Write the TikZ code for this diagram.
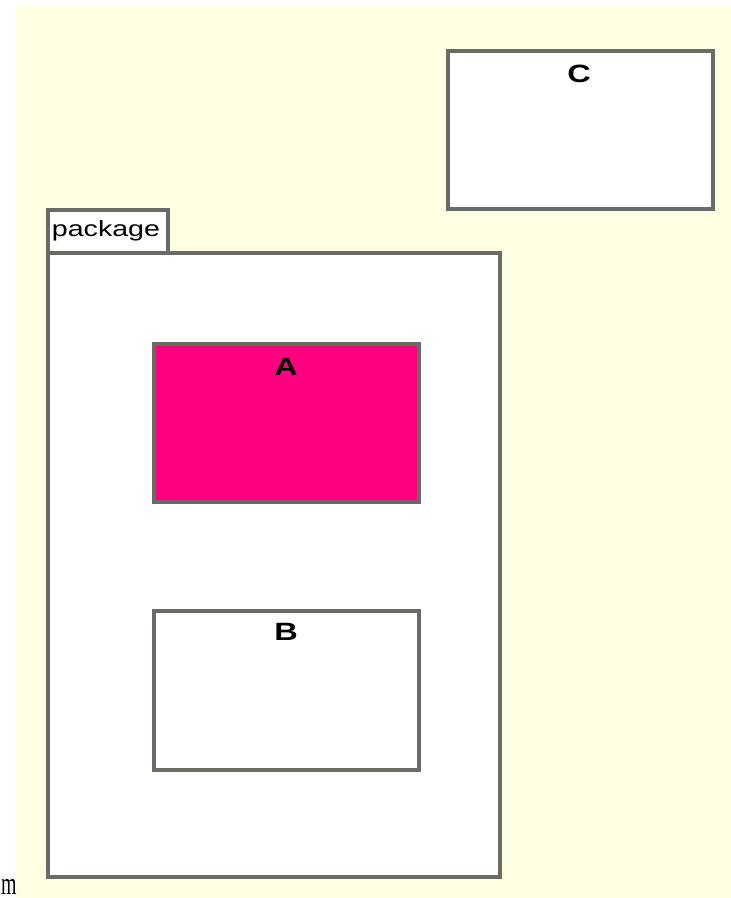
\documentclass[tikz,border=0pt]{standalone}
\usepackage{fontspec}
\setmainfont{Liberation Sans}
\newfontfamily\serifm{Liberation Serif}
\usepackage{tikz}
\usepackage{xcolor}
\usepackage{graphicx}

\definecolor{canvas}{HTML}{FFFFE3}
\definecolor{edge}{HTML}{6A6A66}
\definecolor{hot}{HTML}{FF0080}
\newcommand{\wide}[1]{\scalebox{1.3}[1]{#1}}

\tikzset{
  classbox/.style={draw=edge, line width=3.2pt, fill=white, rectangle, inner sep=0pt},
  classname/.style={font=\fontsize{25}{25}\selectfont\bfseries, inner sep=0pt},
}

\begin{document}
\begin{tikzpicture}[x=1pt, y=-1pt]
\useasboundingbox (0,0) rectangle (731,898);
\fill[canvas] (16,6) rectangle (731,898);
\node[classbox, minimum width=265pt, minimum height=158pt] (C) at (580.5,130) {};
\node[classname] (Cname) at (579,74) {\wide{C}};
\node[classbox, minimum width=120pt, minimum height=43pt] (tab) at (108,231.5) {};
\node[font=\fontsize{22}{22}\selectfont, inner sep=0pt] (tabname) at (106,231) {\wide{package}};
\node[classbox, minimum width=452pt, minimum height=624pt] (pkg) at (274,565) {};
\node[classbox, fill=hot, minimum width=265pt, minimum height=158pt] (A) at (286.5,423) {};
\node[classname] (Aname) at (286,367) {\wide{A}};
\node[classbox, minimum width=265pt, minimum height=159pt] (B) at (286.5,690.5) {};
\node[classname] (Bname) at (286,632) {\wide{B}};
\node[font=\serifm\fontsize{32}{32}\selectfont, inner sep=0pt, anchor=base west] (m) at (1,894) {\scalebox{0.62}[1]{m}};
\end{tikzpicture}
\end{document}
